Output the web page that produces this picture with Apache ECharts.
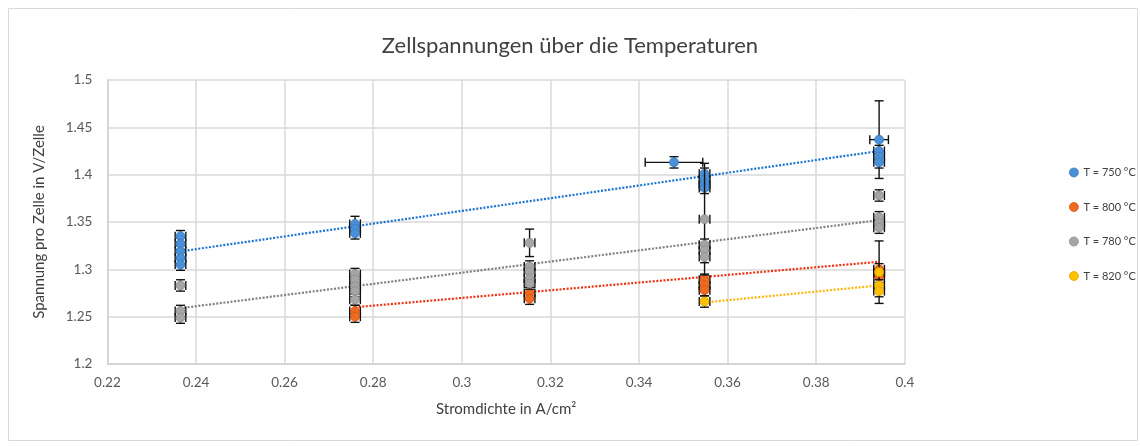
<!DOCTYPE html>
<html>
<head>
<meta charset="utf-8">
<script src="https://cdn.jsdelivr.net/npm/echarts@6/dist/echarts.min.js"></script>
<style>html,body{margin:0;padding:0;background:#fff;}#c{width:1140px;height:446px;}</style>
</head>
<body>
<div id="c"></div>
<script>
// ---- data ----
const seriesNames = ['T = 750 °C', 'T = 800 °C', 'T = 780 °C', 'T = 820 °C'];
const xTicks = [0.22, 0.24, 0.26, 0.28, 0.30, 0.32, 0.34, 0.36, 0.38, 0.40];
const yTicks = [1.2, 1.25, 1.3, 1.35, 1.4, 1.45, 1.5];

// T = 750 °C
const blueX = [0.2365,0.2365,0.2365,0.2365,0.2365, 0.2759,0.2759,0.2759, 0.3479, 0.3548,0.3548,0.3548,0.3548, 0.3942,0.3942,0.3942,0.3942];
const blueY = [1.335,1.327,1.319,1.312,1.305, 1.348,1.343,1.338, 1.413, 1.401,1.395,1.390,1.386, 1.437,1.425,1.419,1.413];
const blueErrX = [0,0,0,0,0, 0,0,0, 0.0065, 0,0,0,0, 0.0021,0,0,0];
const blueErrY = [0,0,0,0,0, 0.008,0,0, 0, 0,0,0,0, 0.041,0,0,0];
// T = 800 °C
const orangeX = [0.2759,0.2759, 0.3153,0.3153, 0.3548,0.3548,0.3548, 0.3942,0.3942];
const orangeY = [1.256,1.250, 1.275,1.269, 1.289,1.283,1.278, 1.300,1.292];
const orangeErrX = [0,0, 0,0, 0,0,0, 0,0];
const orangeErrY = [0,0, 0,0, 0,0,0, 0,0];
// T = 780 °C
const grayX = [0.2365,0.2365,0.2365, 0.2759,0.2759,0.2759,0.2759,0.2759, 0.3153,0.3153,0.3153,0.3153,0.3153, 0.3548,0.3548,0.3548,0.3548, 0.3942,0.3942,0.3942,0.3942];
const grayY = [1.283,1.256,1.249, 1.295,1.289,1.282,1.277,1.268, 1.328,1.303,1.297,1.290,1.285, 1.353,1.326,1.320,1.313, 1.378,1.355,1.349,1.344];
const grayErrX = [0,0,0, 0,0,0,0,0, 0,0,0,0,0, 0,0,0,0, 0,0,0,0];
const grayErrY = [0.004,0,0, 0,0,0,0,0, 0.0145,0,0,0,0, 0.059,0,0,0, 0,0,0,0];
// T = 820 °C
const yellowX = [0.3548, 0.3942,0.3942,0.3942];
const yellowY = [1.266, 1.297,1.283,1.277];
const yellowErrX = [0, 0,0,0];
const yellowErrY = [0, 0.033,0,0];

// linear trend lines (end points)
const blueTrendX = [0.2365, 0.3942];   const blueTrendY = [1.319, 1.425];
const orangeTrendX = [0.2759, 0.3942]; const orangeTrendY = [1.260, 1.308];
const grayTrendX = [0.2365, 0.3942];   const grayTrendY = [1.259, 1.352];
const yellowTrendX = [0.3548, 0.3942]; const yellowTrendY = [1.265, 1.283];

// ---- styles ----
const markerColors = ['#4A90D9', '#ED6A1F', '#A5A5A5', '#FFC000'];
const markerBorders = ['#3A7CC0', '#D45A14', '#8E8E8E', '#E0A800'];
const trendColors = ['#1B74D2', '#F0300F', '#808080', '#FFB400'];
const minErrX = 0.0012, minErrY = 0.006;

function pts(xs, ys) { return xs.map((x, i) => [x, ys[i]]); }
function errPts(xs, ys, ex, ey) {
  return xs.map((x, i) => [x, ys[i], Math.max(ex[i], minErrX), Math.max(ey[i], minErrY)]);
}
function errRender(params, api) {
  const x = api.value(0), y = api.value(1), ex = api.value(2), ey = api.value(3);
  const c = api.coord([x, y]);
  const t = api.coord([x, y + ey]), b = api.coord([x, y - ey]);
  const l = api.coord([x - ex, y]), r = api.coord([x + ex, y]);
  const cap = 4.5;
  const st = { stroke: '#111', lineWidth: 1.4 };
  const L = (x1, y1, x2, y2) => ({ type: 'line', shape: { x1, y1, x2, y2 }, style: st });
  return {
    type: 'group',
    children: [
      L(c[0], t[1], c[0], b[1]),
      L(c[0] - cap, t[1], c[0] + cap, t[1]),
      L(c[0] - cap, b[1], c[0] + cap, b[1]),
      L(l[0], c[1], r[0], c[1]),
      L(l[0], c[1] - cap, l[0], c[1] + cap),
      L(r[0], c[1] - cap, r[0], c[1] + cap)
    ]
  };
}

const groups = [
  [blueX, blueY, blueErrX, blueErrY, blueTrendX, blueTrendY],
  [orangeX, orangeY, orangeErrX, orangeErrY, orangeTrendX, orangeTrendY],
  [grayX, grayY, grayErrX, grayErrY, grayTrendX, grayTrendY],
  [yellowX, yellowY, yellowErrX, yellowErrY, yellowTrendX, yellowTrendY]
];

const series = [];
groups.forEach((g, i) => {
  series.push({
    type: 'line', name: 'trend' + i, data: pts(g[4], g[5]), symbol: 'none', silent: true,
    lineStyle: { color: trendColors[i], width: 2.2, type: [2, 1.6] }, z: 2
  });
});
groups.forEach((g, i) => {
  series.push({
    type: 'custom', name: 'err' + i, renderItem: errRender, data: errPts(g[0], g[1], g[2], g[3]),
    encode: { x: 0, y: 1 }, z: 3 + i * 2, silent: true
  });
  series.push({
    type: 'scatter', name: seriesNames[i], data: pts(g[0], g[1]), symbol: 'circle', symbolSize: 9,
    itemStyle: { color: markerColors[i], borderColor: markerBorders[i], borderWidth: 0.8, opacity: 1 },
    z: 4 + i * 2
  });
});

const font = 'Lato, "Open Sans", sans-serif';
const chart = echarts.init(document.getElementById('c'), null, { renderer: 'canvas' });
chart.setOption({
  animation: false,
  backgroundColor: '#fff',
  textStyle: { fontFamily: font },
  title: {
    text: 'Zellspannungen über die Temperaturen', left: 'center', top: 30,
    textStyle: { fontFamily: font, fontSize: 22, fontWeight: 'normal', color: '#404040' }
  },
  graphic: [{
    type: 'rect', shape: { x: 8.5, y: 8.5, width: 1129, height: 432 },
    style: { fill: 'none', stroke: '#d9d9d9', lineWidth: 1 }, silent: true
  }],
  legend: {
    data: seriesNames, orient: 'vertical', left: 1064, top: 162, itemGap: 23.5,
    icon: 'circle', itemWidth: 9, itemHeight: 9, itemStyle: { borderWidth: 0.8 },
    textStyle: { fontFamily: font, fontSize: 11, color: '#404040' }
  },
  grid: { left: 107.4, right: 235.2, top: 80, bottom: 82 },
  xAxis: {
    type: 'value', min: xTicks[0], max: xTicks[xTicks.length - 1], interval: 0.02,
    name: 'Stromdichte in A/cm²', nameLocation: 'middle', nameGap: 38,
    nameTextStyle: { fontFamily: font, fontSize: 15, color: '#404040' },
    axisLine: { show: true, lineStyle: { color: '#d0d0d0', width: 1.5 } },
    axisTick: { show: false },
    axisLabel: { margin: 12, fontSize: 13.5, color: '#595959', fontFamily: font,
      formatter: v => String(Math.round(v * 100) / 100) },
    splitLine: { show: true, lineStyle: { color: '#d9d9d9', width: 1.5 } }
  },
  yAxis: {
    type: 'value', min: yTicks[0], max: yTicks[yTicks.length - 1], interval: 0.05,
    name: 'Spannung pro Zelle in V/Zelle', nameLocation: 'middle', nameGap: 61,
    nameTextStyle: { fontFamily: font, fontSize: 15, color: '#404040' },
    axisLine: { show: true, lineStyle: { color: '#d0d0d0', width: 1.5 } },
    axisTick: { show: false },
    axisLabel: { margin: 15, fontSize: 13.5, color: '#595959', fontFamily: font,
      formatter: v => String(Math.round(v * 100) / 100) },
    splitLine: { show: true, lineStyle: { color: '#d9d9d9', width: 1.5 } }
  },
  series: series
});
</script>
</body>
</html>
